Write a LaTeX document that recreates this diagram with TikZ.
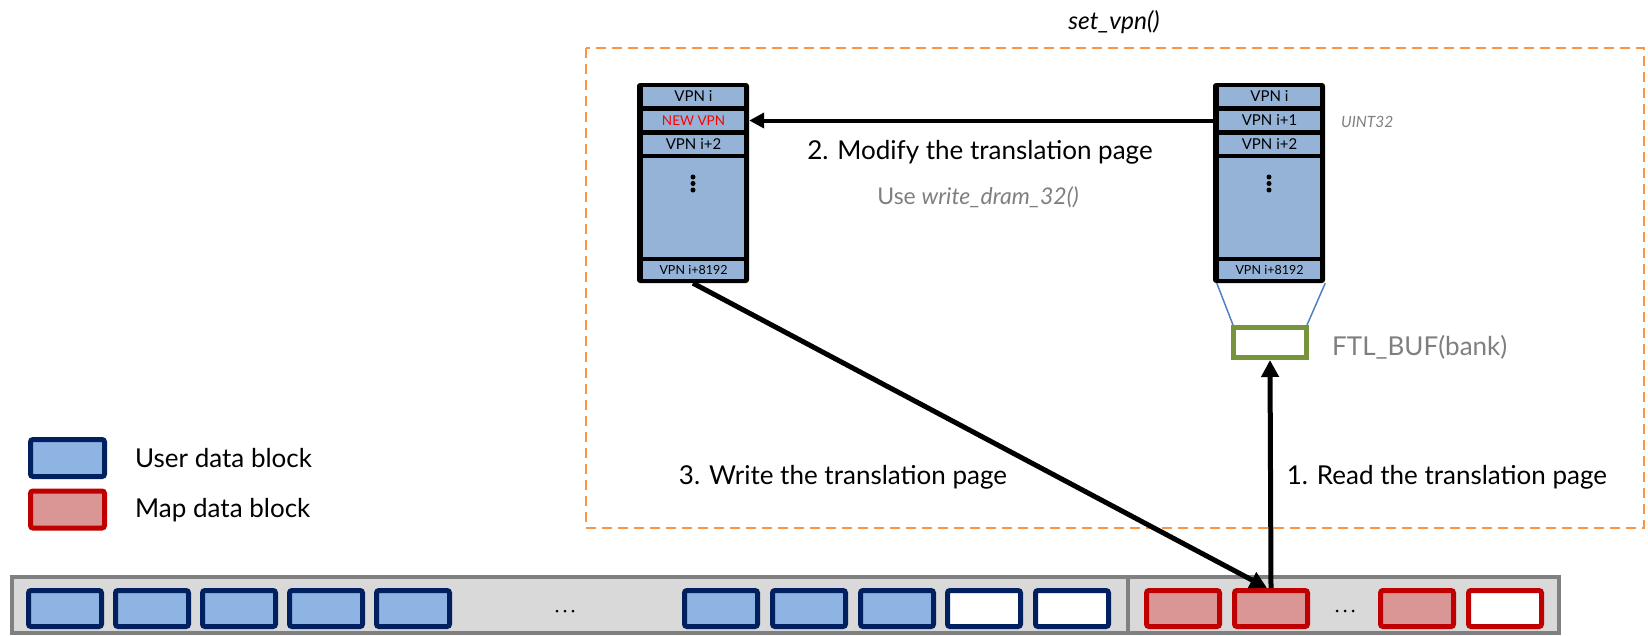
\documentclass[tikz,border=0pt]{standalone}
\usepackage{fontspec}
\setmainfont{Lato}
\usetikzlibrary{arrows.meta,calc}

\definecolor{cellblue}{HTML}{95B3D7}
\definecolor{ublue}{HTML}{8EB4E3}
\definecolor{navy}{HTML}{002060}
\definecolor{mapred}{HTML}{C00000}
\definecolor{mpink}{HTML}{DA9694}
\definecolor{dashorange}{HTML}{F79646}
\definecolor{bufgreen}{HTML}{77933C}
\definecolor{linkblue}{HTML}{4F81BD}
\definecolor{txtgray}{HTML}{7F7F7F}
\definecolor{barfill}{HTML}{D9D9D9}
\definecolor{bargray}{HTML}{808080}

\begin{document}
\begin{tikzpicture}[x=1pt,y=-1pt,
  pageframe/.style={fill=black, rounded corners=3pt, minimum width=112pt,
    minimum height=200pt, inner sep=0pt},
  cell/.style={fill=cellblue, minimum width=101pt, inner sep=0pt},
  bigcell/.style={cell, font=\fontsize{15}{17}\selectfont},
  midcell/.style={cell, font=\fontsize{13.5}{15}\selectfont},
  smallcell/.style={cell, font=\fontsize{12.5}{14}\selectfont},
  blk/.style={line width=5pt, rounded corners=2.5pt, minimum width=73pt,
    minimum height=36pt, inner sep=0pt},
  ublk/.style={blk, draw=navy, fill=ublue},
  uempty/.style={blk, draw=navy, fill=white},
  mblk/.style={blk, draw=mapred, fill=mpink},
  mempty/.style={blk, draw=mapred, fill=white},
  bigarrow/.style={line width=5pt, -{Triangle[length=17pt,width=17pt]}},
  lbltext/.style={font=\fontsize{26}{30}\selectfont, inner sep=0pt},
  dot/.style={circle, fill=black, inner sep=0pt, minimum size=#1},
]
\useasboundingbox (0,0) rectangle (1648,635);

% function frame
\node[font=\fontsize{24.5}{28}\selectfont\itshape, inner sep=0pt] (title) at (1114,22) {set\_vpn()};
\draw[dashorange, line width=2.5pt, dash pattern=on 10pt off 6pt] (586,48) rectangle (1644,528);

% translation page after modification
\node[pageframe] (lframe) at (693,183) {};
\node[bigcell, minimum height=19pt] (l1) at (693.5,96.5) {VPN i};
\node[midcell, minimum height=19pt, text=red] (l2) at (693.5,120.5) {NEW VPN};
\node[bigcell, minimum height=19pt] (l3) at (693.5,144.5) {VPN i+2};
\node[cell, minimum height=99pt] (l4) at (693.5,207.5) {};
\node[smallcell, minimum height=18pt] (l5) at (693.5,270) {VPN i+8192};
\foreach \yy in {177,183.5,190} \node[dot=5pt] at (693,\yy) {};

% translation page as read
\node[pageframe] (rframe) at (1269,183) {};
\node[bigcell, minimum height=19pt] (r1) at (1269.5,96.5) {VPN i};
\node[bigcell, minimum height=19pt] (r2) at (1269.5,120.5) {VPN i+1};
\node[bigcell, minimum height=19pt] (r3) at (1269.5,144.5) {VPN i+2};
\node[cell, minimum height=99pt] (r4) at (1269.5,207.5) {};
\node[smallcell, minimum height=18pt] (r5) at (1269.5,270) {VPN i+8192};
\foreach \yy in {177,183.5,190} \node[dot=5pt] at (1269,\yy) {};
\node[font=\fontsize{15.5}{18}\selectfont\itshape, text=txtgray, anchor=west, inner sep=0pt] (uint) at (1341,122) {UINT32};

% DRAM buffer
\node[draw=bufgreen, line width=5pt, fill=white, minimum width=73pt, minimum height=30pt, inner sep=0pt] (ftl) at (1270,342.5) {};
\node[lbltext, text=txtgray, anchor=west] (ftltxt) at (1332,347) {FTL\_BUF(bank)};
\draw[linkblue, line width=1.5pt] ($(rframe.south west)+(4,0)$) -- ($(ftl.north west)+(2,0)$);
\draw[linkblue, line width=1.5pt] (rframe.south east) -- ($(ftl.north east)+(-2,0)$);

% step labels
\node[lbltext] (modify) at (980,152) {2. Modify the translation page};
\node[lbltext, font=\fontsize{23}{26}\selectfont, text=txtgray] (usefn) at (978,197) {Use \textit{write\_dram\_32()}};
\node[lbltext] (write) at (843,477) {3. Write the translation page};
\node[lbltext] (read) at (1447,477) {1. Read the translation page};

% legend
\node[ublk, minimum width=74pt, minimum height=37pt] (legu) at (67.5,458) {};
\node[mblk, minimum width=74pt, minimum height=37pt] (legm) at (67.5,509.5) {};
\node[lbltext, anchor=west] (legutxt) at (135,458) {User data block};
\node[lbltext, anchor=west] (legmtxt) at (135,510) {Map data block};

% flash blocks
\draw[bargray, fill=barfill, line width=4pt] (12,577) rectangle (1559,633);
\draw[bargray, line width=4pt] (1128,577) -- (1128,633);
\foreach \xx [count=\i] in {65,152,239,326,413,721,809,897}
  \node[ublk] (u\i) at (\xx,608.5) {};
\node[uempty] (u9) at (984,608.5) {};
\node[uempty] (u10) at (1072,608.5) {};
\node[mblk] (m1) at (1183,608.5) {};
\node[mblk] (m2) at (1271,608.5) {};
\node[mblk] (m3) at (1417,608.5) {};
\node[mempty] (m4) at (1505,608.5) {};
\foreach \xx in {557,565,573} \node[dot=3pt] at (\xx,611) {};
\foreach \xx in {1337,1345,1353} \node[dot=3pt] at (\xx,611) {};

% data movement
\draw[line width=4pt, -{Triangle[length=15pt,width=15pt]}] (rframe.west |- r2.center) -- (lframe.east |- l2.center);
\draw[bigarrow] (lframe.south) -- ($(m2.north)+(-4,0)$);
\draw[bigarrow] (m2.north) -- (ftl.south);
\end{tikzpicture}
\end{document}
